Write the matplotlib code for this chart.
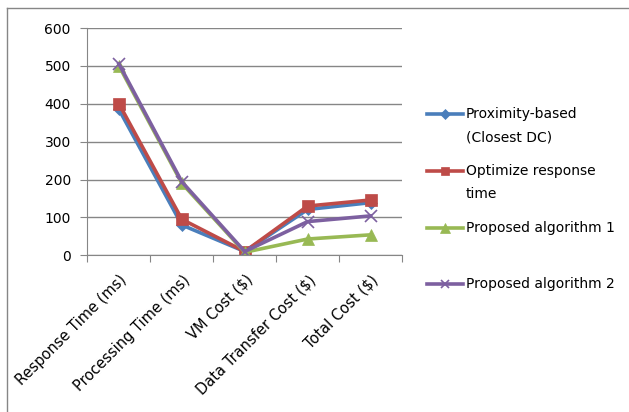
import matplotlib.pyplot as plt
from matplotlib.lines import Line2D

plt.rcParams['font.family'] = ['DejaVu Sans']

categories = ['Response Time (ms)', 'Processing Time (ms)', 'VM Cost ($)',
              'Data Transfer Cost ($)', 'Total Cost ($)']
proximity = [385, 80, 10, 121, 139]
optimize_rt = [400, 95, 10, 130, 146]
proposed_1 = [500, 190, 8, 43, 54]
proposed_2 = [505, 194, 10, 89, 104]

series = [
    ('Proximity-based\n(Closest DC)', proximity, '#4A7EBB', 'D', 6),
    ('Optimize response\ntime', optimize_rt, '#BE4B48', 's', 8),
    ('Proposed algorithm 1', proposed_1, '#98B954', '^', 8.5),
    ('Proposed algorithm 2', proposed_2, '#7D60A0', 'x', 8),
]

W, H = 629, 412
fig = plt.figure(figsize=(W / 100, H / 100), dpi=100)
ax = fig.add_axes([87.5 / W, 1 - 255.3 / H, (402 - 87.5) / W, (255.3 - 28) / H])

grid_col = '#868686'
x = list(range(len(categories)))
for label, vals, col, mk, ms in series:
    ax.plot(x, vals, color=col, lw=2.6, marker=mk, markersize=ms,
            markeredgecolor=col, markeredgewidth=1.2 if mk == 'x' else 0.5,
            solid_joinstyle='round')

ax.set_ylim(0, 600)
ax.set_xlim(-0.5, len(categories) - 0.5)
ax.set_yticks(range(0, 601, 100))
ax.yaxis.grid(True, color=grid_col, lw=1)
ax.set_axisbelow(True)

# category boundaries get the tick marks, centres get the labels
ax.set_xticks([i - 0.5 for i in range(len(categories) + 1)])
ax.set_xticklabels([])
ax.set_xticks(x, minor=True)
ax.set_xticklabels(categories, minor=True, rotation=45, ha='right',
                   va='top', rotation_mode='anchor', fontsize=10.5)
ax.tick_params(axis='x', which='minor', length=0, pad=12)
ax.tick_params(axis='x', which='major', length=5, color=grid_col)
ax.tick_params(axis='y', length=5, color=grid_col, pad=7, labelsize=10)

for side in ('top', 'right'):
    ax.spines[side].set_visible(False)
for side in ('left', 'bottom'):
    ax.spines[side].set_color(grid_col)

# legend drawn by hand so entries sit on an even pitch
entry_y = [114.3, 171, 228.3, 284]
for (label, vals, col, mk, ms), y in zip(series, entry_y):
    fy = 1 - y / H
    fig.add_artist(Line2D([427 / W, 463 / W], [fy, fy], transform=fig.transFigure,
                          color=col, lw=2.6))
    fig.add_artist(Line2D([445 / W], [fy], transform=fig.transFigure,
                          color=col, marker=mk, markersize=ms * 0.8,
                          markeredgecolor=col,
                          markeredgewidth=1.2 if mk == 'x' else 0.5))
    for k, line in enumerate(label.split('\n')):
        fig.text(466 / W, 1 - (y + 23.5 * k) / H, line, ha='left', va='center',
                 fontsize=10)

# chart frame
fig.add_artist(Line2D([7 / W, 7 / W], [0, 1 - 8 / H], transform=fig.transFigure,
                      color=grid_col, lw=1))
fig.add_artist(Line2D([7 / W, 1], [1 - 8 / H, 1 - 8 / H], transform=fig.transFigure,
                      color=grid_col, lw=1))

fig.savefig('out.png', dpi=100)
